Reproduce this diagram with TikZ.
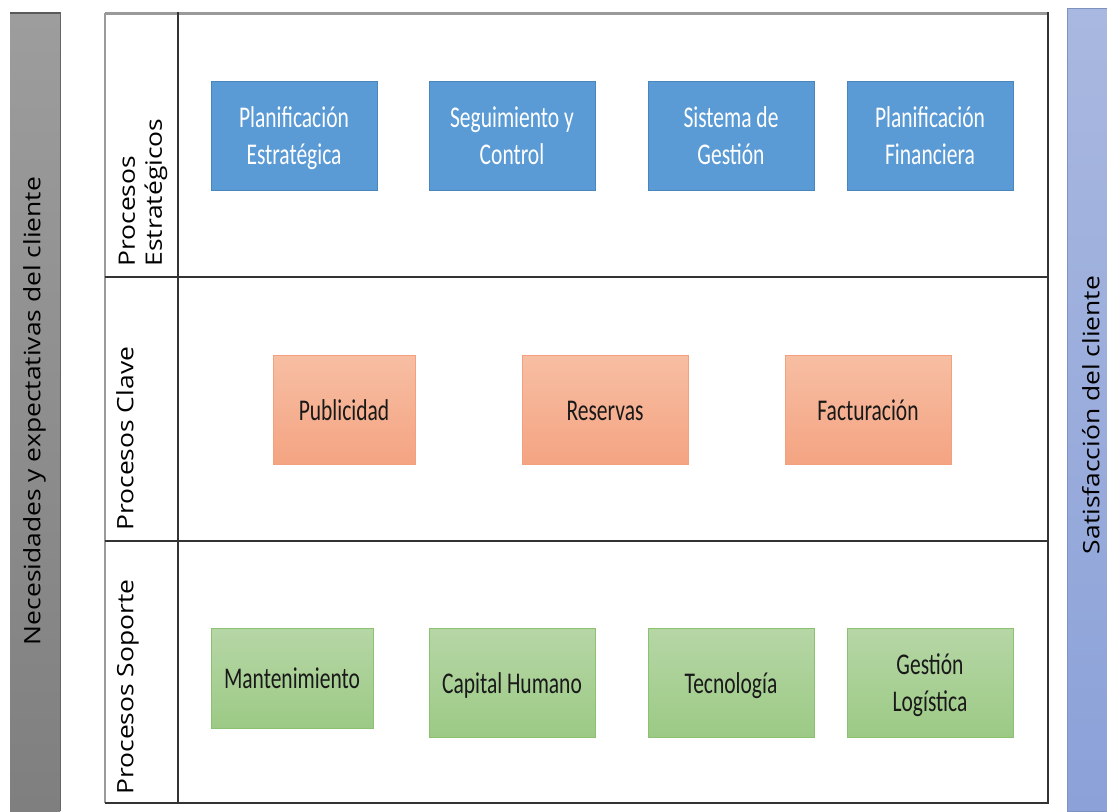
\documentclass[tikz,border=0pt]{standalone}
\usepackage{fontspec}
\setmainfont{Carlito}
\newfontfamily\labelfont{Open Sans}
\usetikzlibrary{positioning}
\definecolor{bluebox}{HTML}{5B9BD5}
\definecolor{blueline}{HTML}{4A86BE}
\definecolor{orangetop}{HTML}{F7BEA3}
\definecolor{orangebot}{HTML}{F4A482}
\definecolor{orangeline}{HTML}{F2A07E}
\definecolor{greentop}{HTML}{B6D6A6}
\definecolor{greenbot}{HTML}{9CCA85}
\definecolor{greenline}{HTML}{8CC171}
\definecolor{graytop}{HTML}{9D9D9D}
\definecolor{graybot}{HTML}{7F7F7F}
\definecolor{sidebluetop}{HTML}{A9B8E0}
\definecolor{sidebluebot}{HTML}{8BA1D8}
\definecolor{tablegray}{HTML}{9A9A9A}
\newcommand{\boxtext}[1]{\raisebox{-1.6pt}[\height][\depth]{\scalebox{1}[1.4]{\begin{tabular}{@{}c@{}}#1\end{tabular}}}}
\newcommand{\sidetext}[1]{\scalebox{1.17}[1]{\begin{tabular}{@{}l@{}}#1\end{tabular}}}
\tikzset{
  px/.style={x=0.5pt,y=-0.5pt},
  procbox/.style={inner sep=0pt, font=\fontsize{10.75}{13.2}\selectfont},
  stratbox/.style={procbox, fill=bluebox, draw=blueline, line width=0.5pt, text=white},
  keybox/.style={procbox, top color=orangetop, bottom color=orangebot, draw=orangeline, line width=0.4pt, text=black!90},
  supbox/.style={procbox, top color=greentop, bottom color=greenbot, draw=greenline, line width=0.5pt, text=black!90},
  rowlabel/.style={rotate=90, anchor=west, font=\labelfont\fontsize{11.3}{13.5}\selectfont, inner sep=0pt, text=black},
  sidelabel/.style={rotate=90, font=\labelfont\fontsize{11.3}{13.5}\selectfont, inner sep=0pt, text=black},
  tline/.style={line width=0.6pt, black!80}
}
\begin{document}
\begin{tikzpicture}[px]
\useasboundingbox (0,0) rectangle (1107,811);
% side bars
\shade[top color=graytop, bottom color=graybot] (10,12) rectangle (60,811);
\draw[line width=0.5pt, black!60] (60,12) -- (60,811);
\draw[line width=1pt, black!65] (10,12.5) -- (60,12.5);
\node[sidelabel] (need) at (35,411) {\sidetext{Necesidades y expectativas del cliente}};
\shade[top color=sidebluetop, bottom color=sidebluebot, draw=sidebluebot!90!black, line width=0.3pt] (1067,8) rectangle (1107,811);
\node[sidelabel] (sat) at (1094,415) {\sidetext{Satisfacción del cliente}};
% table
\draw[line width=1.5pt, tablegray] (105,13) -- (1048,13);
\draw[line width=1.2pt, tablegray] (105,13) -- (105,803);
\draw[tline] (105,803) -- (1048,803) -- (1048,12);
\draw[tline] (178,12) -- (178,803);
\draw[tline] (105,277) -- (1048,277);
\draw[tline] (105,541) -- (1048,541);
% row labels
\node[rowlabel] (lstrat) at (143,267) {\sidetext{Procesos\\Estratégicos}};
\node[rowlabel] (lkey) at (128,531) {\sidetext{Procesos Clave}};
\node[rowlabel] (lsup) at (128,795) {\sidetext{Procesos Soporte}};
% strategic
\node[stratbox, minimum width=83pt, minimum height=54.5pt] (s1) at (294,135.5) {\boxtext{Planificación\\Estratégica}};
\node[stratbox, minimum width=83pt, minimum height=54.5pt] (s2) at (512,135.5) {\boxtext{Seguimiento y\\Control}};
\node[stratbox, minimum width=83pt, minimum height=54.5pt] (s3) at (731,135.5) {\boxtext{Sistema de\\Gestión}};
\node[stratbox, minimum width=83pt, minimum height=54.5pt] (s4) at (930,135.5) {\boxtext{Planificación\\Financiera}};
% key
\node[keybox, minimum width=71pt, minimum height=54.5pt] (k1) at (344,409.5) {\boxtext{Publicidad}};
\node[keybox, minimum width=83pt, minimum height=54.5pt] (k2) at (605,409.5) {\boxtext{Reservas}};
\node[keybox, minimum width=83pt, minimum height=54.5pt] (k3) at (868,409.5) {\boxtext{Facturación}};
% support
\node[supbox, minimum width=81pt, minimum height=50pt] (g1) at (292,678) {\boxtext{Mantenimiento}};
\node[supbox, minimum width=83pt, minimum height=54.5pt] (g2) at (512,682.5) {\boxtext{Capital Humano}};
\node[supbox, minimum width=83pt, minimum height=54.5pt] (g3) at (731,682.5) {\boxtext{Tecnología}};
\node[supbox, minimum width=83pt, minimum height=54.5pt] (g4) at (930,682.5) {\boxtext{Gestión\\Logística}};
\end{tikzpicture}
\end{document}
